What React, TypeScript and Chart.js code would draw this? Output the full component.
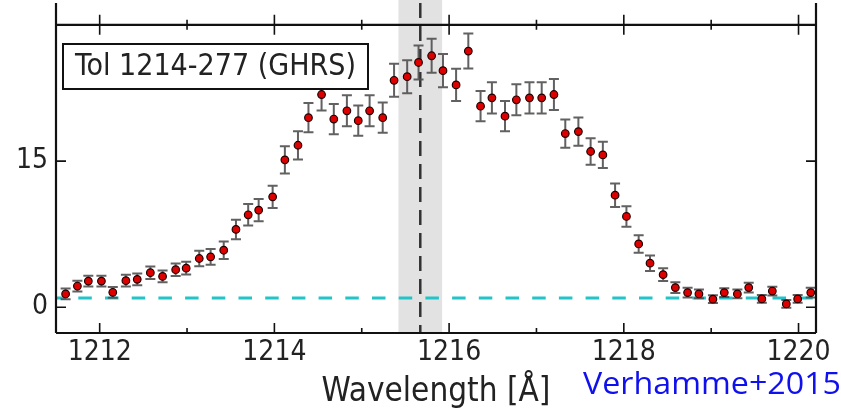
import React, { useEffect, useRef } from "react";
import { Chart, registerables } from "chart.js";
Chart.register(...registerables);

const wavelengths = [1211.61, 1211.745, 1211.87, 1212.02, 1212.15, 1212.3, 1212.43, 1212.58, 1212.72, 1212.87, 1212.99, 1213.14, 1213.27, 1213.42, 1213.56, 1213.7, 1213.82, 1213.98, 1214.12, 1214.27, 1214.39, 1214.54, 1214.68, 1214.83, 1214.96, 1215.09, 1215.24, 1215.37, 1215.52, 1215.65, 1215.8, 1215.93, 1216.08, 1216.22, 1216.36, 1216.49, 1216.64, 1216.77, 1216.92, 1217.06, 1217.2, 1217.33, 1217.48, 1217.62, 1217.76, 1217.9, 1218.03, 1218.17, 1218.3, 1218.45, 1218.59, 1218.73, 1218.86, 1219.02, 1219.15, 1219.3, 1219.43, 1219.58, 1219.7, 1219.86, 1219.99, 1220.14];
const flux = [1.36, 2.17, 2.68, 2.68, 1.53, 2.72, 2.86, 3.54, 3.16, 3.85, 4.01, 5.0, 5.17, 5.85, 7.99, 9.49, 9.97, 11.33, 15.13, 16.63, 19.46, 21.84, 19.32, 20.17, 19.15, 20.17, 19.46, 23.3, 23.67, 25.13, 25.82, 24.29, 22.83, 26.3, 20.64, 21.5, 19.62, 21.3, 21.5, 21.5, 21.84, 17.83, 18.03, 15.99, 15.64, 11.5, 9.32, 6.5, 4.52, 3.34, 2.01, 1.5, 1.36, 0.82, 1.5, 1.36, 2.01, 0.85, 1.66, 0.34, 0.85, 1.5];
const fluxErr = [0.55, 0.55, 0.55, 0.55, 0.55, 0.6, 0.6, 0.65, 0.6, 0.65, 0.65, 0.8, 0.8, 0.9, 1.0, 1.1, 1.15, 1.15, 1.4, 1.45, 1.5, 1.65, 1.55, 1.6, 1.55, 1.6, 1.55, 1.7, 1.7, 1.75, 1.75, 1.7, 1.65, 1.8, 1.55, 1.6, 1.55, 1.6, 1.6, 1.6, 1.6, 1.45, 1.45, 1.35, 1.35, 1.2, 1.05, 0.9, 0.8, 0.65, 0.55, 0.5, 0.45, 0.4, 0.45, 0.45, 0.5, 0.4, 0.45, 0.4, 0.4, 0.5];
const xTickValues = [1212, 1214, 1216, 1218, 1220];
const xMinorTickValues = [1213, 1215, 1217, 1219];
const yTickValues = [0, 15];
const continuumLevel = 0.95;
const lyaCenter = 1215.67;
const bandRange = [1215.42, 1215.92];
const objectLabel = "Tol 1214-277 (GHRS)";
const xTitle = "Wavelength [Å]";
const creditText = "Verhamme+2015";

const FONT = '"DejaVu Sans Condensed", "DejaVu Sans"';

const decor = {
  id: "decor",
  beforeDatasetsDraw(chart: any) {
    const { ctx, chartArea: a, scales } = chart;
    const x = scales.x, y = scales.y;
    ctx.save();
    const bx0 = x.getPixelForValue(bandRange[0]);
    const bx1 = x.getPixelForValue(bandRange[1]);
    ctx.fillStyle = "#e2e2e2";
    ctx.fillRect(bx0, 0, bx1 - bx0, a.bottom);

    const cy = y.getPixelForValue(continuumLevel);
    ctx.strokeStyle = "#22c3c9";
    ctx.lineWidth = 3;
    ctx.setLineDash([13.5, 13.2]);
    ctx.lineDashOffset = 4.4;
    ctx.beginPath();
    ctx.moveTo(a.left, cy);
    ctx.lineTo(a.right, cy);
    ctx.stroke();

    const lx = x.getPixelForValue(lyaCenter);
    ctx.strokeStyle = "#333";
    ctx.lineWidth = 2.5;
    ctx.setLineDash([15, 8]);
    ctx.lineDashOffset = 0;
    ctx.beginPath();
    ctx.moveTo(lx, 3);
    ctx.lineTo(lx, a.bottom);
    ctx.stroke();
    ctx.setLineDash([]);

    ctx.strokeStyle = "rgba(80,80,80,0.9)";
    ctx.lineWidth = 2;
    for (let i = 0; i < wavelengths.length; i++) {
      const px = x.getPixelForValue(wavelengths[i]);
      const y0 = y.getPixelForValue(flux[i] - fluxErr[i]);
      const y1 = y.getPixelForValue(flux[i] + fluxErr[i]);
      ctx.beginPath();
      ctx.moveTo(px, y0);
      ctx.lineTo(px, y1);
      ctx.moveTo(px - 5, y0);
      ctx.lineTo(px + 5, y0);
      ctx.moveTo(px - 5, y1);
      ctx.lineTo(px + 5, y1);
      ctx.stroke();
    }
    ctx.restore();
  },
  afterDraw(chart: any) {
    const { ctx, chartArea: a, scales } = chart;
    const x = scales.x, y = scales.y;
    ctx.save();
    ctx.strokeStyle = "#111";
    ctx.lineWidth = 2.2;
    ctx.beginPath();
    ctx.moveTo(a.left, 3);
    ctx.lineTo(a.left, a.bottom);
    ctx.moveTo(a.right, 3);
    ctx.lineTo(a.right, a.bottom);
    ctx.moveTo(a.left, a.top);
    ctx.lineTo(a.right, a.top);
    ctx.moveTo(a.left, a.bottom);
    ctx.lineTo(a.right, a.bottom);
    ctx.stroke();

    ctx.lineWidth = 1.6;
    ctx.beginPath();
    const tick = (v: number, len: number) => {
      const px = x.getPixelForValue(v);
      ctx.moveTo(px, a.bottom);
      ctx.lineTo(px, a.bottom - len);
      ctx.moveTo(px, a.top - len);
      ctx.lineTo(px, a.top + len);
    };
    xTickValues.forEach((v) => tick(v, 10));
    xMinorTickValues.forEach((v) => tick(v, 5));
    yTickValues.forEach((v) => {
      const py = y.getPixelForValue(v);
      ctx.moveTo(a.left, py);
      ctx.lineTo(a.left + 10, py);
      ctx.moveTo(a.right, py);
      ctx.lineTo(a.right - 10, py);
    });
    ctx.stroke();

    // legend box
    ctx.fillStyle = "#fff";
    ctx.fillRect(63, 44, 305, 45);
    ctx.strokeStyle = "#111";
    ctx.lineWidth = 2;
    ctx.strokeRect(63, 44, 305, 45);
    ctx.font = "30px " + FONT;
    ctx.fillStyle = "#222";
    ctx.textBaseline = "alphabetic";
    const w = ctx.measureText(objectLabel).width;
    ctx.save();
    ctx.translate(75, 75);
    ctx.scale(281 / w, 1);
    ctx.fillText(objectLabel, 0, 0);
    ctx.restore();

    // credit
    ctx.font = '31px "Open Sans"';
    ctx.fillStyle = "#1010ee";
    const cw = ctx.measureText(creditText).width;
    ctx.save();
    ctx.translate(583, 394);
    ctx.scale(258 / cw, 1);
    ctx.fillText(creditText, 0, 0);
    ctx.restore();
    ctx.restore();
  },
};

export default function App() {
  const ref = useRef<HTMLCanvasElement | null>(null);
  useEffect(() => {
    if (!ref.current) return;
    const chart = new Chart(ref.current, {
      type: "scatter",
      data: {
        datasets: [
          {
            data: wavelengths.map((w, i) => ({ x: w, y: flux[i] })),
            backgroundColor: "#dd0000",
            borderColor: "#220000",
            borderWidth: 1.2,
            pointRadius: 3.8,
          },
        ],
      },
      options: {
        responsive: false,
        devicePixelRatio: 1,
        animation: false,
        layout: { padding: { top: 23, right: 25, left: 0, bottom: 0 } },
        plugins: { legend: { display: false }, tooltip: { enabled: false } },
        scales: {
          x: {
            type: "linear",
            min: 1211.5,
            max: 1220.2,
            grid: { display: false, drawTicks: false },
            border: { display: false },
            afterBuildTicks: (s: any) => {
              s.ticks = xTickValues.map((v) => ({ value: v }));
            },
            afterFit: (s: any) => {
              s.height = 82;
            },
            ticks: {
              font: { family: FONT, size: 28 },
              color: "#222",
              padding: 3,
              maxRotation: 0,
              autoSkip: false,
              callback: (v: any) => String(v),
            },
            title: {
              display: true,
              text: xTitle,
              font: { family: FONT, size: 33 },
              color: "#222",
              padding: { top: 0, bottom: 3 },
            },
          },
          y: {
            type: "linear",
            min: -2.65,
            max: 29,
            grid: { display: false, drawTicks: false },
            border: { display: false },
            afterBuildTicks: (s: any) => {
              s.ticks = yTickValues.map((v) => ({ value: v }));
            },
            afterFit: (s: any) => {
              s.width = 56;
            },
            ticks: {
              font: { family: FONT, size: 28 },
              color: "#222",
              padding: 8,
              callback: (v: any) => String(v),
            },
          },
        },
      },
      plugins: [decor],
    } as any);
    return () => chart.destroy();
  }, []);
  return (
    <div style={{ position: "absolute", left: 0, top: 0, width: 841, height: 415, background: "#fff" }}>
      <canvas ref={ref} width={841} height={415} />
    </div>
  );
}
